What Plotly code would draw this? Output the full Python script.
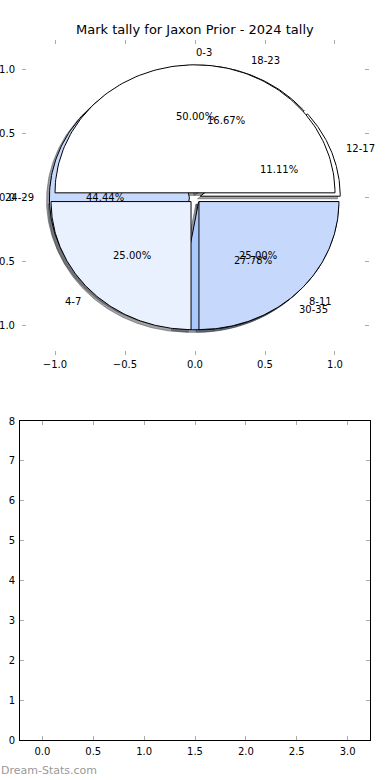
import numpy as np
import plotly.graph_objects as go

# ---- data ----
title = "Mark tally for Jaxon Prior - 2024 tally"
pie1_labels = ["0-3", "4-7", "8-11"]
pie1_values = [50.00, 25.00, 25.00]
pie2_labels = ["12-17", "18-23", "24-29", "30-35"]
pie2_values = [11.11, 16.67, 44.44, 27.78]
slice_colors = ["#ffffff", "#eaf1fe", "#c6d9fd", "#a9c8fb"]
explode = 0.04
x_ticks = [-1.0, -0.5, 0.0, 0.5, 1.0]
y_ticks = [-1.0, -0.5, 0.0, 0.5, 1.0]
bar_x_ticks = [0.0, 0.5, 1.0, 1.5, 2.0, 2.5, 3.0]
bar_y_ticks = [0, 1, 2, 3, 4, 5, 6, 7, 8]

FONT = "DejaVu Sans"
fig = go.Figure()


def wedge_geom(values):
    tot = sum(values)
    out = []
    t = 0.0
    for v in values:
        t1 = t
        t2 = t + 360.0 * v / tot
        tm = np.deg2rad((t1 + t2) / 2)
        cx, cy = explode * np.cos(tm), explode * np.sin(tm)
        out.append((t1, t2, tm, cx, cy))
        t = t2
    return out


def wedge_poly(t1, t2, cx, cy, dx=0.0, dy=0.0):
    th = np.deg2rad(np.linspace(t1, t2, 120))
    xs = np.concatenate([[cx], cx + np.cos(th), [cx]]) + dx
    ys = np.concatenate([[cy], cy + np.sin(th), [cy]]) + dy
    return xs, ys


def shade(hexcol):
    h = hexcol.lstrip("#")
    r, g, b = (int(h[i:i + 2], 16) for i in (0, 2, 4))
    return "rgba(%d,%d,%d,0.5)" % (r * 0.3, g * 0.3, b * 0.3)


pies = [(pie2_labels, pie2_values), (pie1_labels, pie1_values)]

# shadows first (lower z-order)
for labels, values in pies:
    for i, (t1, t2, tm, cx, cy) in enumerate(wedge_geom(values)):
        xs, ys = wedge_poly(t1, t2, cx, cy, -0.02, -0.02)
        c = shade(slice_colors[i % len(slice_colors)])
        fig.add_trace(go.Scatter(x=xs, y=ys, mode="lines", fill="toself",
                                 fillcolor=c, line=dict(color=c, width=1),
                                 hoverinfo="skip", showlegend=False,
                                 xaxis="x", yaxis="y"))

# wedges
for labels, values in pies:
    for i, (t1, t2, tm, cx, cy) in enumerate(wedge_geom(values)):
        xs, ys = wedge_poly(t1, t2, cx, cy)
        fig.add_trace(go.Scatter(x=xs, y=ys, mode="lines", fill="toself",
                                 fillcolor=slice_colors[i % len(slice_colors)],
                                 line=dict(color="black", width=1),
                                 hoverinfo="skip", showlegend=False,
                                 xaxis="x", yaxis="y"))

annotations = []
for labels, values in pies:
    for i, (t1, t2, tm, cx, cy) in enumerate(wedge_geom(values)):
        lx = cx + 1.1 * np.cos(tm)
        ly = cy + 1.1 * np.sin(tm)
        annotations.append(dict(x=lx, y=ly, xref="x", yref="y", text=labels[i],
                                showarrow=False, xanchor="left" if lx > 0 else "right",
                                yanchor="middle", borderpad=0,
                                font=dict(family=FONT, size=10, color="black")))
        px = cx + 0.6 * np.cos(tm)
        py = cy + 0.6 * np.sin(tm)
        annotations.append(dict(x=px, y=py, xref="x", yref="y",
                                text="%.2f%%" % values[i], showarrow=False,
                                xanchor="center", yanchor="middle", borderpad=0,
                                font=dict(family=FONT, size=10, color="black")))

annotations.append(dict(x=0.5, y=1 - 30 / 780, xref="paper", yref="paper",
                        text=title, showarrow=False, xanchor="center",
                        yanchor="middle", font=dict(family=FONT, size=13, color="black")))
annotations.append(dict(x=0.0, y=1 - 770 / 780, xref="paper", yref="paper",
                        text="Dream-Stats.com", showarrow=False, xanchor="left",
                        yanchor="middle", borderpad=0,
                        font=dict(family=FONT, size=11, color="#999999")))

# empty second plot placeholder (no marks)
fig.add_trace(go.Scatter(x=[], y=[], mode="markers", showlegend=False,
                         xaxis="x2", yaxis="y2"))

tickfont = dict(family=FONT, size=10, color="black")
fig.update_layout(
    width=390, height=780,
    margin=dict(l=0, r=0, t=0, b=0),
    paper_bgcolor="white", plot_bgcolor="white",
    showlegend=False,
    annotations=annotations,
    xaxis=dict(domain=[22 / 390, 369 / 390], range=[-1.2357, 1.2429],
               tickvals=x_ticks, ticktext=["\u22121.0", "\u22120.5", "0.0", "0.5", "1.0"],
               ticks="inside", ticklen=4, tickcolor="#aaaaaa", mirror="ticks",
               showline=False, showgrid=False, zeroline=False, ticklabelstandoff=2,
               tickfont=tickfont, anchor="y", automargin=False),
    yaxis=dict(domain=[1 - 355 / 780, 1 - 40 / 780], range=[-1.227, 1.234],
               tickvals=y_ticks, ticktext=["\u22121.0", "\u22120.5", "0.0", "0.5", "1.0"],
               ticks="inside", ticklen=4, tickcolor="#aaaaaa", mirror="ticks",
               showline=False, showgrid=False, zeroline=False, ticklabelstandoff=6,
               tickfont=tickfont, anchor="x", automargin=False),
    xaxis2=dict(domain=[20 / 390, 370 / 390], range=[-0.22, 3.22],
                tickvals=bar_x_ticks, ticktext=["%.1f" % v for v in bar_x_ticks],
                ticks="inside", ticklen=4, tickcolor="#aaaaaa", mirror="ticks",
                showline=True, linecolor="black", linewidth=1,
                showgrid=False, zeroline=False, ticklabelstandoff=2,
                tickfont=tickfont, anchor="y2", automargin=False),
    yaxis2=dict(domain=[1 - 740 / 780, 1 - 421 / 780], range=[0, 8],
                tickvals=bar_y_ticks, ticktext=[str(v) for v in bar_y_ticks],
                ticks="inside", ticklen=4, tickcolor="#aaaaaa", mirror="ticks",
                showline=True, linecolor="black", linewidth=1,
                showgrid=False, zeroline=False, ticklabelstandoff=2,
                tickfont=tickfont, anchor="x2", automargin=False),
)

fig.write_html("out.html", config={"displayModeBar": False},
               post_script="document.body.style.margin='0px';document.body.style.overflow='hidden';")
